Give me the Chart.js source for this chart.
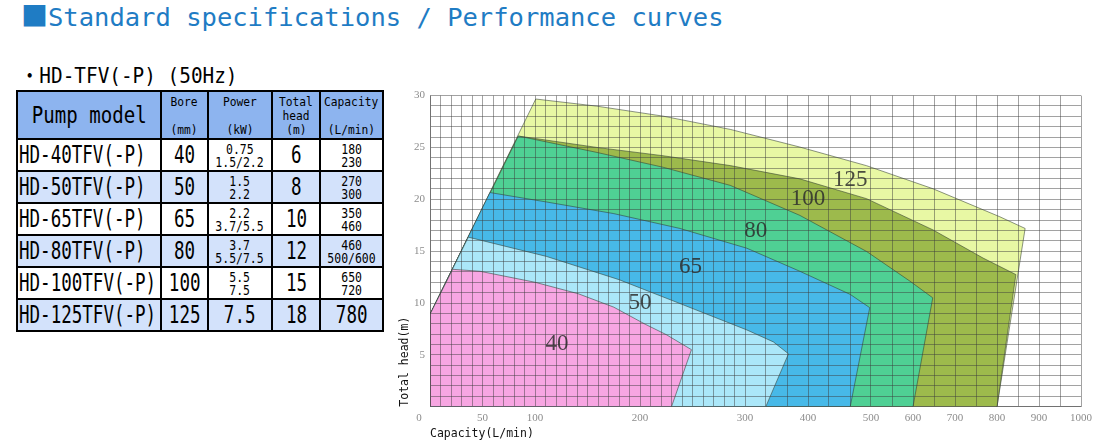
<!DOCTYPE html>
<html><head><meta charset="utf-8">
<title>HD-TFV(-P) performance curves</title>
<script src="https://cdn.jsdelivr.net/npm/chart.js@4.4.1/dist/chart.umd.min.js"></script>
<style>
html,body{margin:0;padding:0;background:#fff;}
body{width:1098px;height:444px;overflow:hidden;position:relative;font-family:"DejaVu Sans Mono","Noto Sans CJK JP",monospace;color:#000}
.sx{display:inline-block;white-space:nowrap;transform-origin:50% 50%}
#title{position:absolute;left:21px;top:-1px;color:#1f7cc4;font-size:25.5px;line-height:32px;white-space:nowrap}
#title .sq{font-family:"Noto Sans CJK JP";font-size:27px}
#sub{position:absolute;left:20px;top:62px;font-size:22px;line-height:28px;white-space:nowrap}
#sub .sx{transform:scaleX(0.88);transform-origin:0 50%}
#spec{position:absolute;left:16px;top:90px;border-collapse:collapse;table-layout:fixed;width:366px}
#spec td{border:2px solid #000;padding:0;text-align:center;vertical-align:middle;overflow:hidden;white-space:nowrap;line-height:1}
#spec tr.hd td{background:#8db4ef}
#spec tr.alt td{background:#d3e2fb}
#spec tr.plain td{background:#fff}
#spec td.model{text-align:left;padding-left:1px}
#spec td.model .sx{transform-origin:0 50%}
.big{font-size:24px;transform:scaleX(0.73)}
.hbig{font-size:23px;transform:scaleX(0.83)}
.small{font-size:14px;transform:scaleX(0.82)}
.hsmall{font-size:12.5px;transform:scaleX(0.9)}
.ln{display:block;height:13px;line-height:13px}
.hln{display:block;height:14px;line-height:14px}
#chartBox{position:absolute;left:390px;top:84px;width:708px;height:360px}
</style>
</head>
<body>
<div id="title"><span class="sq">■</span>Standard specifications / Performance curves</div>
<div id="sub"><span class="sx">・HD-TFV(-P) (50Hz)</span></div>
<table id="spec"></table>
<div id="chartBox"><canvas id="c" width="708" height="360"></canvas></div>
<script>
// ---------- table data ----------
const tableHeaders = [['Pump model'], ['Bore', '', '(mm)'], ['Power', '', '(kW)'], ['Total', 'head', '(m)'], ['Capacity', '', '(L/min)']];
const pumpModels = ['HD-40TFV(-P)', 'HD-50TFV(-P)', 'HD-65TFV(-P)', 'HD-80TFV(-P)', 'HD-100TFV(-P)', 'HD-125TFV(-P)'];
const boreMm = ['40', '50', '65', '80', '100', '125'];
const powerKw = [['0.75', '1.5/2.2'], ['1.5', '2.2'], ['2.2', '3.7/5.5'], ['3.7', '5.5/7.5'], ['5.5', '7.5'], ['7.5']];
const totalHeadM = ['6', '8', '10', '12', '15', '18'];
const capacityLmin = [['180', '230'], ['270', '300'], ['350', '460'], ['460', '500/600'], ['650', '720'], ['780']];

// ---------- chart data (capacity L/min, total head m) ----------
const regionNames = ['40', '50', '65', '80', '100', '125'];
const curve40 = [[0, 0], [0, 8.9], [21.6, 13.25], [47.6, 13.06], [100, 12.0], [141, 10.9], [175, 9.6], [205, 7.95], [225, 6.95], [249, 5.5], [230, 0]];
const curve50 = [[0, 0], [0, 8.9], [36.5, 16.35], [111, 14.49], [180, 12.25], [238, 9.95], [303, 7.4], [345, 6.25], [369, 5.1], [333, 0]];
const curve65 = [[0, 0], [0, 8.9], [57.1, 20.65], [111, 19.74], [175, 18.62], [238, 17.19], [303, 15.28], [387, 13.06], [467, 10.83], [498, 9.55], [467, 0]];
const curve80 = [[0, 0], [0, 8.9], [84.1, 26.1], [159, 24.52], [222, 23.09], [286, 21.34], [387, 18.45], [493, 14.97], [593, 12.1], [647, 10.5], [600, 0]];
const curve100 = [[0, 0], [0, 8.9], [84.1, 26.1], [159, 25.0], [222, 24.2], [286, 23.25], [387, 21.97], [493, 20.06], [648, 17.04], [767, 14.33], [845, 12.74], [800, 0]];
const curve125 = [[0, 0], [0, 8.9], [100.7, 29.67], [159, 28.98], [222, 28.02], [286, 26.74], [387, 25.04], [493, 23.24], [648, 21.01], [807, 18.31], [867, 17.19], [800, 0]];
const regionLabelAt = [[121, 6.08], [200, 10.0], [248, 13.44], [317, 16.97], [400, 20.03], [467, 21.9]];
const capacityTicks = [0, 50, 100, 200, 300, 400, 500, 600, 700, 800, 900, 1000];
const headTicks = [5, 10, 15, 20, 25, 30];

const regionCurves = [curve40, curve50, curve65, curve80, curve100, curve125];
const regionColors = ['#f7a6e2', '#abe7f9', '#47b9e8', '#4fd094', '#9dba4c', '#e8f8a4'];

// ---------- build table ----------
(function () {
  const t = document.getElementById('spec');
  let html = '<colgroup><col style="width:144px"><col style="width:47px"><col style="width:64px"><col style="width:48px"><col style="width:63px"></colgroup>';
  html += '<tr class="hd" style="height:48px">';
  tableHeaders.forEach((h, i) => {
    if (i === 0) html += '<td><span class="sx hbig">' + h[0] + '</span></td>';
    else html += '<td>' + h.map(s => '<span class="hln"><span class="sx hsmall">' + (s || '&nbsp;') + '</span></span>').join('') + '</td>';
  });
  html += '</tr>';
  const multi = arr => arr.length === 1
    ? '<span class="sx big">' + arr[0] + '</span>'
    : arr.map(s => '<span class="ln"><span class="sx small">' + s + '</span></span>').join('');
  pumpModels.forEach((m, i) => {
    html += '<tr class="' + (i % 2 ? 'alt' : 'plain') + '" style="height:32px">';
    html += '<td class="model"><span class="sx big">' + m + '</span></td>';
    html += '<td><span class="sx big">' + boreMm[i] + '</span></td>';
    html += '<td>' + multi(powerKw[i]) + '</td>';
    html += '<td><span class="sx big">' + totalHeadM[i] + '</span></td>';
    html += '<td>' + multi(capacityLmin[i]) + '</td>';
    html += '</tr>';
  });
  t.innerHTML = html;
})();

// ---------- piecewise capacity scale (graph-paper axis) ----------
const X_BREAK_VALUES = [0, 300, 500, 1000];
const X_BREAK_UNITS = [0, 30, 42, 62];
const X_GRID_STEP = [10, 100 / 3, 50];
function capToUnits(v) {
  const b = X_BREAK_VALUES, u = X_BREAK_UNITS;
  if (v <= b[0]) return u[0] + (v - b[0]) * (u[1] - u[0]) / (b[1] - b[0]);
  for (let i = 0; i < b.length - 1; i++) {
    if (v <= b[i + 1]) return u[i] + (v - b[i]) * (u[i + 1] - u[i]) / (b[i + 1] - b[i]);
  }
  const n = b.length - 1;
  return u[n] + (v - b[n]) * (u[n] - u[n - 1]) / (b[n] - b[n - 1]);
}
function unitsToCap(x) {
  const b = X_BREAK_VALUES, u = X_BREAK_UNITS;
  for (let i = 0; i < u.length - 1; i++) {
    if (x <= u[i + 1] || i === u.length - 2) return b[i] + (x - u[i]) * (b[i + 1] - b[i]) / (u[i + 1] - u[i]);
  }
}
const U_MAX = X_BREAK_UNITS[X_BREAK_UNITS.length - 1];
class PiecewiseScale extends Chart.LinearScale {
  static id = 'piecewise';
  static defaults = {};
  buildTicks() {
    const ticks = [];
    for (let s = 0; s < X_BREAK_VALUES.length - 1; s++) {
      const a = X_BREAK_VALUES[s], b = X_BREAK_VALUES[s + 1], st = X_GRID_STEP[s];
      const n = Math.round((b - a) / st);
      for (let k = (s === 0 ? 0 : 1); k <= n; k++) ticks.push({ value: Math.round((a + k * st) * 1e6) / 1e6 });
    }
    return ticks;
  }
  getPixelForValue(v) { return this.getPixelForDecimal(capToUnits(v) / U_MAX); }
  getValueForPixel(p) { return unitsToCap(this.getDecimalForPixel(p) * U_MAX); }
}
Chart.register(PiecewiseScale);

const GRID = 'rgba(60,60,60,0.48)';
const TICK_FONT = { family: 'Liberation Serif', size: 11 };
const TICK_COLOR = '#8c8c8c';

const labelPlugin = {
  id: 'regionLabels',
  afterDraw(chart) {
    const { ctx, scales: { x, y } } = chart;
    ctx.save();
    ctx.font = '23px "Liberation Serif"';
    ctx.fillStyle = 'rgba(45,45,45,0.85)';
    ctx.textAlign = 'center';
    ctx.textBaseline = 'middle';
    regionNames.forEach((n, i) => {
      ctx.fillText(n, x.getPixelForValue(regionLabelAt[i][0]), y.getPixelForValue(regionLabelAt[i][1]));
    });
    // origin label of the capacity axis (sits left of the corner)
    ctx.font = '11px "Liberation Serif"';
    ctx.fillStyle = TICK_COLOR;
    ctx.fillText(String(capacityTicks[0]), x.getPixelForValue(capacityTicks[0]) - 11, x.top + 5 + 6.6);
    ctx.restore();
  }
};

new Chart(document.getElementById('c'), {
  type: 'line',
  data: {
    datasets: regionCurves.map((c, i) => ({
      label: regionNames[i],
      data: c.map(p => ({ x: p[0], y: p[1] })),
      backgroundColor: regionColors[i],
      borderColor: 'rgba(50,60,50,0.55)',
      borderWidth: 1,
      fill: 'shape',
      pointRadius: 0,
      tension: 0
    }))
  },
  options: {
    responsive: false,
    animation: false,
    layout: { padding: { top: 8.7, right: 17, left: 0, bottom: 0 } },
    plugins: { legend: { display: false }, tooltip: { enabled: false }, filler: { drawTime: 'beforeDatasetDraw' } },
    scales: {
      x: {
        type: 'piecewise', min: 0, max: 1000,
        grid: { color: GRID, lineWidth: 1, drawTicks: false, z: 1 },
        border: { color: GRID, width: 1, z: 1 },
        ticks: {
          autoSkip: false, maxRotation: 0, padding: 5, font: TICK_FONT, color: TICK_COLOR,
          callback: v => (v !== 0 && capacityTicks.some(t => Math.abs(t - v) < 1e-6)) ? String(Math.round(v)) : ''
        },
        title: { display: true, text: 'Capacity(L/min)', align: 'start', color: '#111', font: { family: 'DejaVu Sans Mono', size: 11.5 }, padding: { top: 0, bottom: 3 } },
        afterFit(s) { s.height = 37.3; }
      },
      y: {
        type: 'linear', min: 0, max: 30,
        grid: { color: GRID, lineWidth: 1, drawTicks: false, z: 1 },
        border: { color: GRID, width: 1, z: 1 },
        ticks: {
          stepSize: 1, autoSkip: false, padding: 5, font: TICK_FONT, color: TICK_COLOR,
          callback: v => headTicks.includes(v) ? String(v) : ''
        },
        title: { display: true, text: 'Total head(m)', align: 'start', color: '#111', font: { family: 'DejaVu Sans Mono', size: 11.5 }, padding: { top: 8, bottom: 0 } },
        afterFit(s) { s.width = 40; }
      }
    }
  },
  plugins: [labelPlugin]
});
</script>
</body></html>
